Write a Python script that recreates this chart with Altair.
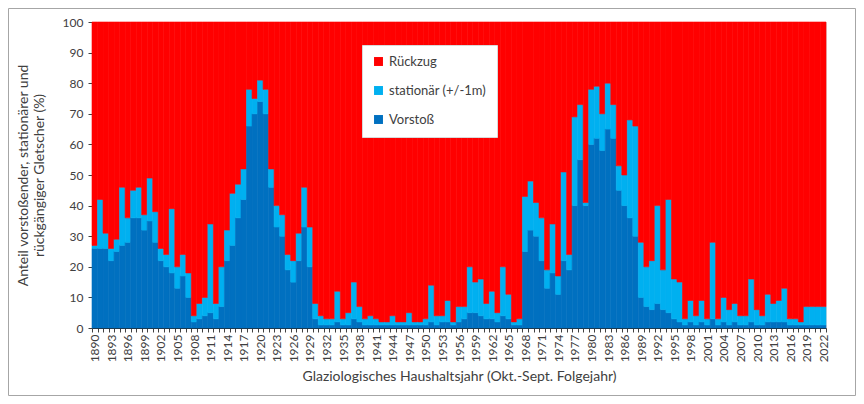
import altair as alt
import pandas as pd

years = list(range(1890, 2023))

# Vorstoß (advancing glaciers, %)
vorstoss = [
    26, 26, 26, 22, 25, 27, 28, 36, 36, 32,   # 1890-1899
    35, 28, 22, 20, 18, 13, 17, 10, 2, 3,     # 1900-1909
    4, 5, 3, 7, 22, 27, 36, 42, 66, 70,       # 1910-1919
    74, 70, 46, 33, 30, 19, 15, 22, 33, 20,   # 1920-1929
    3, 1, 1, 1, 2, 1, 1, 3, 2, 1,             # 1930-1939
    1, 1, 1, 1, 1, 1, 1, 1, 1, 1,             # 1940-1949
    1, 2, 1, 2, 2, 1, 2, 3, 5, 5,             # 1950-1959
    4, 3, 3, 2, 4, 3, 1, 1, 25, 32,           # 1960-1969
    30, 22, 13, 18, 11, 22, 19, 40, 55, 40,   # 1970-1979
    60, 62, 58, 65, 62, 45, 40, 36, 30, 10,   # 1980-1989
    7, 6, 8, 6, 5, 3, 2, 1, 2, 1,             # 1990-1999
    2, 1, 3, 1, 2, 1, 2, 1, 1, 2,             # 2000-2009
    1, 1, 2, 2, 2, 2, 1, 1, 1, 1,             # 2010-2019
    1, 1, 1,                                  # 2020-2022
]

# stationär (+/-1m) (%)
stationaer = [
    1, 16, 5, 4, 4, 19, 8, 9, 10, 5,          # 1890-1899
    14, 10, 4, 4, 21, 7, 7, 8, 2, 5,          # 1900-1909
    6, 29, 5, 13, 10, 17, 11, 10, 12, 5,      # 1910-1919
    7, 8, 6, 7, 7, 5, 7, 9, 13, 13,           # 1920-1929
    5, 3, 2, 2, 10, 2, 4, 12, 5, 2,           # 1930-1939
    3, 2, 1, 1, 3, 1, 1, 4, 1, 1,             # 1940-1949
    2, 12, 3, 2, 7, 1, 5, 4, 15, 10,          # 1950-1959
    12, 5, 9, 3, 16, 8, 1, 2, 18, 16,         # 1960-1969
    11, 14, 6, 16, 6, 29, 5, 29, 18, 1,       # 1970-1979
    18, 17, 12, 15, 11, 8, 10, 32, 36, 18,    # 1980-1989
    13, 16, 32, 13, 37, 13, 13, 2, 7, 3,      # 1990-1999
    7, 2, 25, 2, 8, 5, 6, 3, 3, 14,           # 2000-2009
    5, 3, 9, 6, 7, 11, 2, 2, 1, 6,            # 2010-2019
    6, 6, 6,                                  # 2020-2022
]

categories = ["Rückzug", "stationär (+/-1m)", "Vorstoß"]
colors = ["#FF0000", "#00B0F0", "#0070C0"]
stack_order = {"Vorstoß": 0, "stationär (+/-1m)": 1, "Rückzug": 2}

rows = []
for y, v, s in zip(years, vorstoss, stationaer):
    r = 100 - v - s
    for cat, val in (("Vorstoß", v), ("stationär (+/-1m)", s), ("Rückzug", r)):
        rows.append({"Jahr": y, "Kategorie": cat, "Anteil": val, "ord": stack_order[cat]})
df = pd.DataFrame(rows)

FONT = "Lato"
TXT = "#404040"
W, H = 734, 306

color_scale = alt.Scale(domain=categories, range=colors)

bars = alt.Chart(df).mark_bar(strokeWidth=0.6).encode(
    x=alt.X(
        "Jahr:O",
        scale=alt.Scale(paddingInner=0, paddingOuter=0),
        axis=alt.Axis(
            title="Glaziologisches Haushaltsjahr (Okt.-Sept. Folgejahr)",
            labelExpr="datum.value % 3 == 0 ? datum.label : ''",
            labelAngle=270,
            labelOverlap=False,
            labelFontSize=12,
            labelColor=TXT,
            labelFont=FONT,
            tickBand="extent",
            tickSize=4,
            tickColor="#404040",
            domainColor="#262626",
            titleFont=FONT,
            titleFontSize=14,
            titleFontWeight="normal",
            titleColor=TXT,
            titlePadding=8,
        ),
    ),
    y=alt.Y(
        "Anteil:Q",
        stack="zero",
        scale=alt.Scale(domain=[0, 100], nice=False),
        axis=alt.Axis(
            title=["Anteil vorstoßender, stationärer und", "rückgängiger Gletscher (%)"],
            values=list(range(0, 101, 10)),
            grid=False,
            labelFontSize=12,
            labelColor=TXT,
            labelFont=FONT,
            labelPadding=5,
            tickSize=4,
            tickColor="#404040",
            domainColor="#262626",
            titleFont=FONT,
            titleFontSize=14,
            titleFontWeight="normal",
            titleColor=TXT,
            titlePadding=16,
        ),
    ),
    color=alt.Color(
        "Kategorie:N",
        scale=color_scale,
        legend=alt.Legend(
            title=None,
            orient="none",
            legendX=270,
            legendY=23,
            symbolType="square",
            symbolSize=80,
            symbolStrokeWidth=0,
            labelFont=FONT,
            labelFontSize=13,
            labelColor=TXT,
            rowPadding=15,
            padding=10,
            fillColor="white",
            strokeColor="#d9d9d9",
            labelLimit=200,
        ),
    ),
    stroke=alt.Stroke("Kategorie:N", scale=color_scale, legend=None),
    order=alt.Order("ord:Q", sort="ascending"),
)

frame = alt.Chart(pd.DataFrame({"f": [0]})).mark_rect(
    fill=None, stroke="#a6a6a6", strokeWidth=1
).encode(
    x=alt.value(-83.5), x2=alt.value(763.5), y=alt.value(-13.5), y2=alt.value(373.5)
)

chart = alt.layer(bars, frame).properties(
    width=W,
    height=H,
    autosize=alt.AutoSizeParams(type="none"),
    padding={"left": 84, "top": 14, "right": 30, "bottom": 68},
).configure_view(stroke=None).configure(background="white")

chart.save("out.html", embed_options={"renderer": "svg", "actions": False})
